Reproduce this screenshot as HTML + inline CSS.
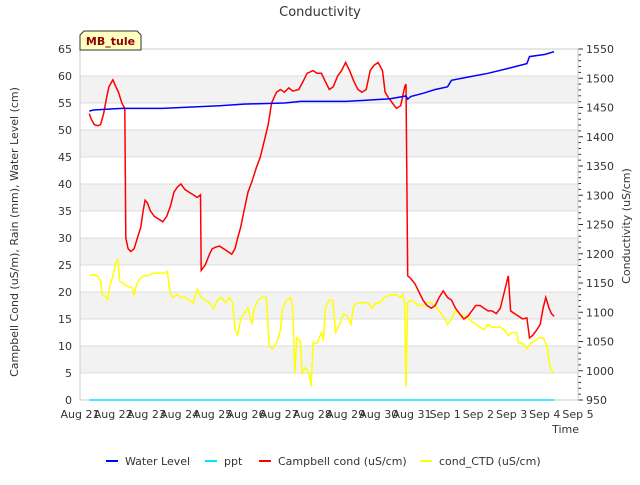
<!DOCTYPE html>
<html><head><meta charset="utf-8"><style>
body{margin:0;background:#fff;font-family:"Liberation Sans","DejaVu Sans",sans-serif}
svg text{font-family:"DejaVu Sans","Liberation Sans",sans-serif}
</style></head><body>
<svg id="c" width="640" height="480" xmlns="http://www.w3.org/2000/svg"></svg>
<script>
const xTickLabels=["Aug 21","Aug 22","Aug 23","Aug 24","Aug 25","Aug 26","Aug 27","Aug 28","Aug 29","Aug 30","Aug 31","Sep 1","Sep 2","Sep 3","Sep 4","Sep 5"];
const yTicks=[0,5,10,15,20,25,30,35,40,45,50,55,60,65];
const y2Ticks=[950,1000,1050,1100,1150,1200,1250,1300,1350,1400,1450,1500,1550];
const redT=[0.28,0.34,0.43,0.53,0.62,0.71,0.80,0.87,0.99,1.08,1.16,1.26,1.35,1.38,1.45,1.53,1.63,1.73,1.83,1.90,1.96,2.03,2.12,2.24,2.37,2.49,2.61,2.73,2.83,2.94,3.04,3.16,3.28,3.41,3.53,3.63,3.65,3.77,3.90,3.98,4.08,4.20,4.33,4.45,4.57,4.67,4.75,4.84,4.94,5.06,5.18,5.31,5.43,5.55,5.67,5.77,5.92,6.04,6.16,6.29,6.41,6.59,6.72,6.84,7.02,7.14,7.27,7.39,7.51,7.63,7.76,7.88,8.00,8.12,8.25,8.37,8.49,8.62,8.74,8.86,8.98,9.11,9.19,9.29,9.41,9.53,9.66,9.78,9.82,9.87,9.96,10.09,10.21,10.33,10.45,10.58,10.70,10.82,10.94,11.07,11.19,11.31,11.43,11.56,11.68,11.80,11.92,12.05,12.17,12.29,12.41,12.54,12.66,12.78,12.90,12.97,13.09,13.21,13.33,13.46,13.54,13.64,13.76,13.86,13.95,14.03,14.13,14.20,14.28];
const redV=[53,52,51,50.8,51,53,56,58,59.3,58,57,55,54,30,28,27.5,28,30,32,35,37,36.5,35,34,33.5,33,34,36,38.5,39.5,40,39,38.5,38,37.5,38,24,25,27,28,28.3,28.5,28,27.5,27,28,30,32,35,38.5,40.5,43,45,48,51,55,57,57.5,57,57.8,57.2,57.5,59,60.5,61,60.5,60.5,59,57.5,58,60,61,62.5,61,59,57.5,57,57.5,61,62,62.5,61,57,56,55,54,54.5,58,58.5,23,22.5,21.5,20,18.5,17.5,17,17.5,19,20.2,19,18.5,17,16,15,15.5,16.5,17.5,17.5,17,16.5,16.5,16,17,20,23,16.5,16,15.5,15,15.2,11.5,12,13,14,17,19,17,16,15.5];
const yelT=[0.28,0.40,0.53,0.62,0.67,0.80,0.83,0.89,0.99,1.08,1.14,1.20,1.32,1.45,1.57,1.63,1.69,1.75,1.81,1.94,2.06,2.18,2.37,2.55,2.63,2.71,2.79,2.92,3.04,3.16,3.28,3.41,3.53,3.65,3.77,3.90,4.02,4.14,4.26,4.39,4.51,4.60,4.67,4.75,4.84,4.94,5.06,5.18,5.25,5.37,5.49,5.61,5.70,5.80,5.92,6.04,6.10,6.23,6.35,6.41,6.47,6.53,6.63,6.69,6.78,6.90,6.96,7.02,7.14,7.27,7.33,7.39,7.51,7.61,7.70,7.82,7.94,8.06,8.16,8.25,8.37,8.55,8.68,8.80,8.92,9.04,9.17,9.35,9.53,9.66,9.72,9.78,9.82,9.87,9.96,10.09,10.21,10.33,10.45,10.58,10.70,10.82,10.94,11.07,11.19,11.31,11.43,11.56,11.68,11.80,11.92,12.05,12.17,12.29,12.41,12.54,12.66,12.78,12.90,13.03,13.15,13.21,13.33,13.46,13.58,13.70,13.82,13.95,14.07,14.13,14.20,14.28];
const yelV=[23,23.2,23,22,19.5,19,18.5,21,23,25.5,26,22,21.5,21,20.8,19.5,21,22,22.5,23,23,23.5,23.5,23.5,23.8,20,19,19.5,19,19,18.5,18,20.5,19,18.5,18,17,18.5,19,18,19,18,13,12,15,16,17,14,17,18.5,19,19,10,9.5,10.5,13,17,18.5,19,17,5,11.5,11,5,6,5,2.5,10.5,10.5,12.5,11,17,18.5,18.5,12.5,14,16,15.5,14,17.5,18,18,18,17,18,18,19,19.5,19.5,19,19.5,18,2.5,18,18.5,18,17.5,17.5,18,18,17.5,16.5,15.5,14,15,16.5,16,15.5,15.5,14.5,14,13.5,13,14,13.5,13.5,13.5,13,12,12.5,12.5,10.5,10.5,9.5,10.5,11,11.5,11.5,10,7,5.5,5];
const bluT=[0.28,0.40,1.26,2.49,3.53,4.20,4.94,6.16,6.65,8.00,8.62,9.35,9.82,9.87,9.96,10.33,10.70,11.07,11.19,11.68,12.29,12.90,13.46,13.54,14.01,14.28];
const bluV=[53.5,53.7,54,54,54.3,54.5,54.8,55,55.3,55.3,55.5,55.8,56.3,55.7,56.2,56.8,57.5,58,59.2,59.8,60.5,61.4,62.3,63.6,64,64.5];
const pptT=[0.28,14.28];
const pptV=[0,0];

const X0=80,X1=578,Y0=400,Y1=49;
const sx=d=>X0+d*(X1-X0)/15;
const sy=v=>Y0-(v/65)*(Y0-Y1);
const sy2=v=>Y0-((v-950)/600)*(Y0-Y1);
const svg=document.getElementById('c');
const NS='http://www.w3.org/2000/svg';
function mk(tag,attrs,txt){const e=document.createElementNS(NS,tag);for(const k in attrs)e.setAttribute(k,attrs[k]);if(txt!==undefined)e.textContent=txt;svg.appendChild(e);return e;}

let e;
// bands
for(let v=5;v<65;v+=10){e=mk('rect',{x:X0,y:sy(v+5),width:X1-X0,height:sy(v)-sy(v+5),fill:'#f2f2f2'});

}
yTicks.forEach(v=>{e=mk('line',{x1:X0,x2:X1,y1:sy(v),y2:sy(v),stroke:'#dcdcdc','stroke-width':1});


e=mk('text',{x:X0-8,y:sy(v)+4,'text-anchor':'end','font-size':11,fill:'#333'},v);

});
y2Ticks.forEach(v=>{e=mk('text',{x:X1+8,y:sy2(v)+4,'font-size':11,fill:'#333'},v);

});
for(let v=950;v<=1550;v+=10){e=mk('line',{x1:X1,x2:X1+(v%50==0?5:3),y1:sy2(v),y2:sy2(v),stroke:'#333'});

}
xTickLabels.forEach((l,i)=>{e=mk('text',{x:sx(i),y:Y0+18,'text-anchor':'middle','font-size':11,fill:'#333'},l);

});
e=mk('rect',{x:X0,y:Y1,width:X1-X0,height:Y0-Y1,fill:'none',stroke:'#ccc'});



function line(T,V,col,name){const d=T.map((t,i)=>(i?'L':'M')+sx(t).toFixed(1)+','+sy(V[i]).toFixed(1)).join('');
e=mk('path',{d:d,fill:'none',stroke:col,'stroke-width':1.5});

}
line(pptT,pptV,'#00e5ff','ppt-line');
line(yelT,yelV,'#ffff00','cond-ctd-line');
line(redT,redV,'#ff0000','campbell-cond-line');
line(bluT,bluV,'#0000ff','water-level-line');

e=mk('text',{x:320,y:16,'text-anchor':'middle','font-size':13,fill:'#333'},'Conductivity');


e=mk('text',{x:18,y:232,'text-anchor':'middle','font-size':11,fill:'#333',transform:'rotate(-90 18 232)'},'Campbell Cond (uS/m), Rain (mm), Water Level (cm)');


e=mk('text',{x:630,y:226,'text-anchor':'middle','font-size':11,fill:'#333',transform:'rotate(-90 630 226)'},'Conductivity (uS/cm)');


e=mk('text',{x:579,y:433,'text-anchor':'end','font-size':11,fill:'#333'},'Time');


e=mk('path',{d:'M84,31 L137,31 L141,35 L141,50 L80,50 L80,35 Z',fill:'#ffffc0',stroke:'#333'});


e=mk('text',{x:110.5,y:45,'text-anchor':'middle','font-size':11,'font-weight':'bold',fill:'#8b0000'},'MB_tule');



const legNames=['Water Level','ppt','Campbell cond (uS/cm)','cond_CTD (uS/cm)'];
const legCols=['#0000ff','#00e5ff','#ff0000','#ffff00'];
const legX=[106,205,259,420];
legNames.forEach((n,i)=>{e=mk('line',{x1:legX[i],x2:legX[i]+12,y1:461,y2:461,stroke:legCols[i],'stroke-width':2});


e=mk('text',{x:legX[i]+19,y:465,'font-size':11,fill:'#333'},n);

});
</script>
</body></html>
